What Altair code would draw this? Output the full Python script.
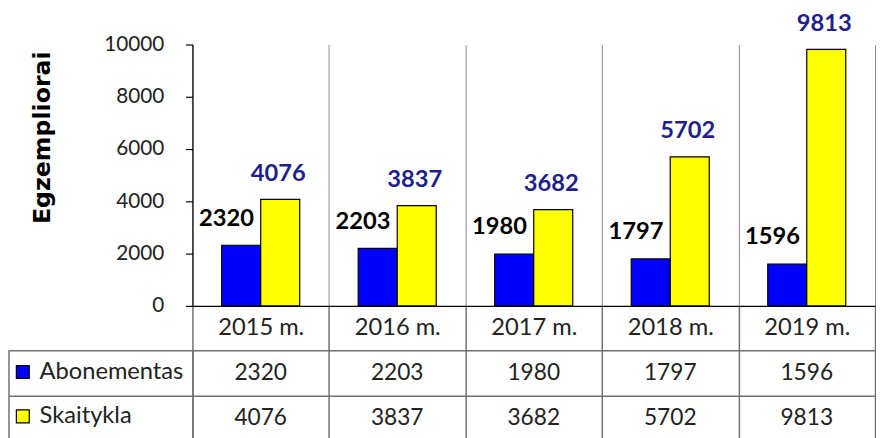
import altair as alt
import pandas as pd

years = ["2015 m.", "2016 m.", "2017 m.", "2018 m.", "2019 m."]
series = ["Abonementas", "Skaitykla"]
abonementas = [2320, 2203, 1980, 1797, 1596]
skaitykla = [4076, 3837, 3682, 5702, 9813]
y_ticks = [0, 2000, 4000, 6000, 8000, 10000]

colors = ["#0000FF", "#FFFF00"]
label_colors = ["#000000", "#1E1E8C"]
FONT = "Lato"

rows = []
for i, y in enumerate(years):
    rows.append({"Metai": y, "Serija": series[0], "Reikšmė": abonementas[i]})
    rows.append({"Metai": y, "Serija": series[1], "Reikšmė": skaitykla[i]})
df = pd.DataFrame(rows)

W = 692
H = 265

x_enc = alt.X("Metai:N", sort=years,
              scale=alt.Scale(paddingInner=0, paddingOuter=0),
              axis=alt.Axis(title=None, tickBand="extent", grid=True, gridColor="#8a8a8a",
                            gridWidth=1, domainColor="#000000", domainWidth=1.2,
                            ticks=True, tickColor="#707070", tickSize=45, tickWidth=1.5,
                            labelPadding=-35, labelFont=FONT, labelFontSize=24,
                            labelColor="#222222", labelAngle=0))
xoff = alt.XOffset("Serija:N", sort=series, scale=alt.Scale(paddingInner=0, paddingOuter=0.75))
y_enc = alt.Y("Reikšmė:Q",
              scale=alt.Scale(domain=[0, 10000], nice=False),
              axis=alt.Axis(title="Egzempliorai", values=y_ticks, format="d", grid=False,
                            domainColor="#000000", domainWidth=1.2, tickColor="#000000",
                            tickSize=7, tickWidth=1.2, labelFont=FONT, labelFontSize=21,
                            labelColor="#222222", labelPadding=22,
                            titleFont="DejaVu Sans", titleFontSize=24, titleFontWeight="bold",
                            titleColor="#000000", titlePadding=50,
                            titleAlign="center", titleY=94))

base = alt.Chart(df)

bars = base.mark_bar(stroke="#000000", strokeWidth=1.2).encode(
    x=x_enc, xOffset=xoff, y=y_enc,
    color=alt.Color("Serija:N", sort=series,
                    scale=alt.Scale(domain=series, range=colors),
                    legend=alt.Legend(title=None, orient="none", legendX=-184, legendY=320,
                                      symbolType="square", symbolSize=170,
                                      symbolStrokeColor="#000000", symbolStrokeWidth=1.2,
                                      labelFont=FONT, labelFontSize=24, labelColor="#222222",
                                      labelOffset=5, rowPadding=21, padding=0)),
)

lab_a = base.transform_filter(alt.datum.Serija == series[0]).mark_text(
    font=FONT, fontSize=24, fontWeight="bold", color=label_colors[0],
    baseline="middle", dy=-27, dx=-15,
).encode(x=x_enc, xOffset=xoff, y=y_enc, text=alt.Text("Reikšmė:Q", format="d"))

lab_s = base.transform_filter(alt.datum.Serija == series[1]).mark_text(
    font=FONT, fontSize=24, fontWeight="bold", color=label_colors[1],
    baseline="middle", dy=-26, dx=-2,
).encode(x=x_enc, xOffset=xoff, y=y_enc, text=alt.Text("Reikšmė:Q", format="d"))

top = alt.layer(bars, lab_a, lab_s).properties(width=W, height=H)

TH = 92
tx = alt.X("Metai:N", sort=years, scale=alt.Scale(paddingInner=0, paddingOuter=0),
           axis=alt.Axis(title=None, tickBand="extent", grid=True, gridColor="#707070",
                         gridWidth=1.5, labels=False, ticks=False, domain=False))
ty = alt.Y("Serija:N", sort=series, scale=alt.Scale(paddingInner=0, paddingOuter=0),
           axis=alt.Axis(title=None, tickBand="extent", grid=True, gridColor="#707070",
                         gridWidth=1.5, labels=False, ticks=True, tickSize=186,
                         tickColor="#707070", tickWidth=1.5, domainColor="#707070",
                         domainWidth=1.5))

table_text = base.mark_text(font=FONT, fontSize=23, color="#222222", baseline="middle").encode(
    x=tx, y=ty, text=alt.Text("Reikšmė:Q", format="d"))

left_border = alt.Chart(pd.DataFrame({"k": [0]})).mark_rule(
    color="#707070", strokeWidth=1.5).encode(
    x=alt.value(-186), y=alt.value(0), y2=alt.value(TH))

bottom = alt.layer(table_text, left_border).properties(width=W, height=TH)

chart = alt.vconcat(top, bottom, spacing=45, bounds="flush").properties(
    padding={"left": 0, "top": 0, "right": 0, "bottom": 0}
).configure_view(stroke=None)

chart.save("out.html", embed_options={"renderer": "svg", "actions": False})
